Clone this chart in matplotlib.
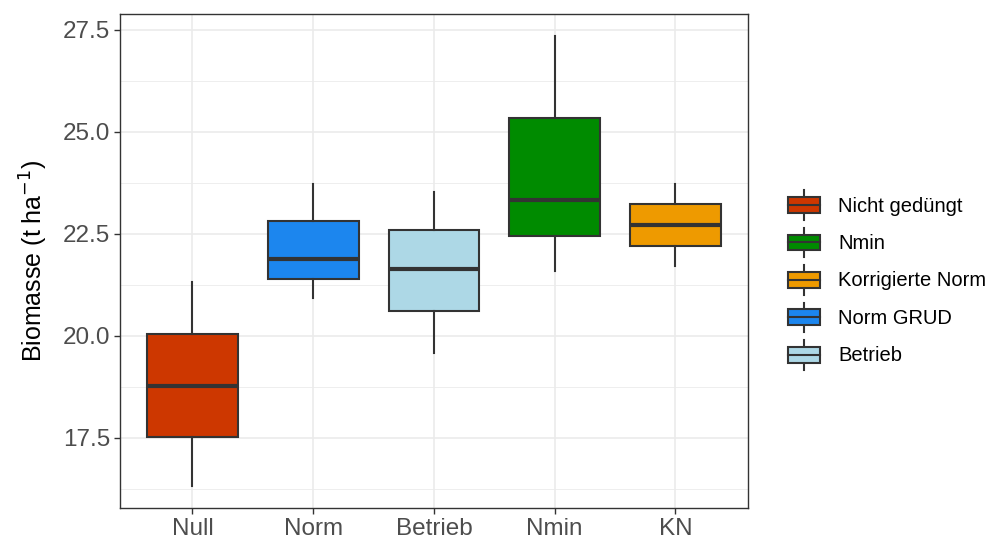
import numpy as np
import matplotlib.pyplot as plt
from matplotlib.patches import Rectangle
from matplotlib.lines import Line2D
from matplotlib.legend_handler import HandlerBase

plt.rcParams['font.family'] = ['Liberation Sans', 'DejaVu Sans']

# Werte
gruppen = ['Null', 'Norm', 'Betrieb', 'Nmin', 'KN']
w_unten = [16.31, 20.92, 19.59, 21.60, 21.72]
q1 = [17.53, 21.40, 20.61, 22.45, 22.21]
median = [18.76, 21.89, 21.65, 23.33, 22.73]
q3 = [20.05, 22.81, 22.59, 25.34, 23.23]
w_oben = [21.31, 23.73, 23.52, 27.35, 23.73]
farben = ['#CD3700', '#1C86EE', '#ADD8E6', '#008B00', '#EE9A00']

legende = ['Nicht gedüngt', 'Nmin', 'Korrigierte Norm', 'Norm GRUD', 'Betrieb']
legende_farben = ['#CD3700', '#008B00', '#EE9A00', '#1C86EE', '#ADD8E6']

linie = '#333333'

stats = []
for i in range(len(gruppen)):
    stats.append(dict(med=median[i], q1=q1[i], q3=q3[i],
                      whislo=w_unten[i], whishi=w_oben[i], fliers=[]))

fig = plt.figure(figsize=(9.88, 5.41), dpi=100)
ax = fig.add_axes([0.1215, 0.061, 0.6355, 0.913])

pos = np.arange(1, len(gruppen) + 1)
bp = ax.bxp(stats, positions=pos, widths=0.75, patch_artist=True,
            showcaps=False, showfliers=False,
            boxprops=dict(edgecolor=linie, linewidth=1.5),
            medianprops=dict(color=linie, linewidth=3),
            whiskerprops=dict(color=linie, linewidth=1.5))
for box, f in zip(bp['boxes'], farben):
    box.set_facecolor(f)
for el in bp['boxes'] + bp['medians'] + bp['whiskers']:
    el.set_zorder(3)

ax.set_xlim(0.4, 5.6)
ax.set_ylim(15.78, 27.89)
ax.set_xticks(pos)
ax.set_xticklabels(gruppen)
ax.set_yticks([17.5, 20.0, 22.5, 25.0, 27.5])
ax.set_yticklabels(['17.5', '20.0', '22.5', '25.0', '27.5'])
ax.set_yticks([16.25, 18.75, 21.25, 23.75, 26.25], minor=True)

ax.grid(True, which='major', color='#EBEBEB', linewidth=1.2, zorder=0)
ax.grid(True, which='minor', axis='y', color='#EBEBEB', linewidth=0.6, zorder=0)
ax.set_axisbelow(True)
for s in ax.spines.values():
    s.set_color('#333333')
    s.set_linewidth(1.0)
ax.tick_params(axis='both', which='major', colors='#333333', length=4, width=1,
               labelsize=17.5, labelcolor='#4D4D4D', pad=3)
ax.tick_params(axis='y', which='minor', length=0)
ax.set_ylabel('Biomasse (t ha$^{-1}$)', fontsize=18, color='black', labelpad=9)


class BoxHandler(HandlerBase):
    def create_artists(self, legend, orig, xdescent, ydescent, width, height, fontsize, trans):
        x0 = -xdescent
        y0 = -ydescent
        lo = y0 + 0.24 * height
        hi = y0 + 0.77 * height
        cx = x0 + width / 2
        rect = Rectangle((x0, lo), width, hi - lo, facecolor=orig.get_facecolor(),
                         edgecolor=linie, linewidth=1.5, transform=trans)
        w1 = Line2D([cx, cx], [y0, lo], color=linie, linewidth=1.5, transform=trans)
        w2 = Line2D([cx, cx], [hi, y0 + height], color=linie, linewidth=1.5, transform=trans)
        m = Line2D([x0, x0 + width], [(lo + hi) / 2] * 2, color=linie, linewidth=1.5,
                   transform=trans)
        return [w1, w2, rect, m]


handles = [Rectangle((0, 0), 1, 1, facecolor=c) for c in legende_farben]
fig.legend(handles, legende, handler_map={Rectangle: BoxHandler()},
           loc='center left', bbox_to_anchor=(0.7976, 0.4824), frameon=False,
           fontsize=14.5, handlelength=1.6, handleheight=1.9, labelspacing=0.38,
           handletextpad=0.9, borderpad=0, borderaxespad=0)

fig.savefig('out.png', dpi=100)
